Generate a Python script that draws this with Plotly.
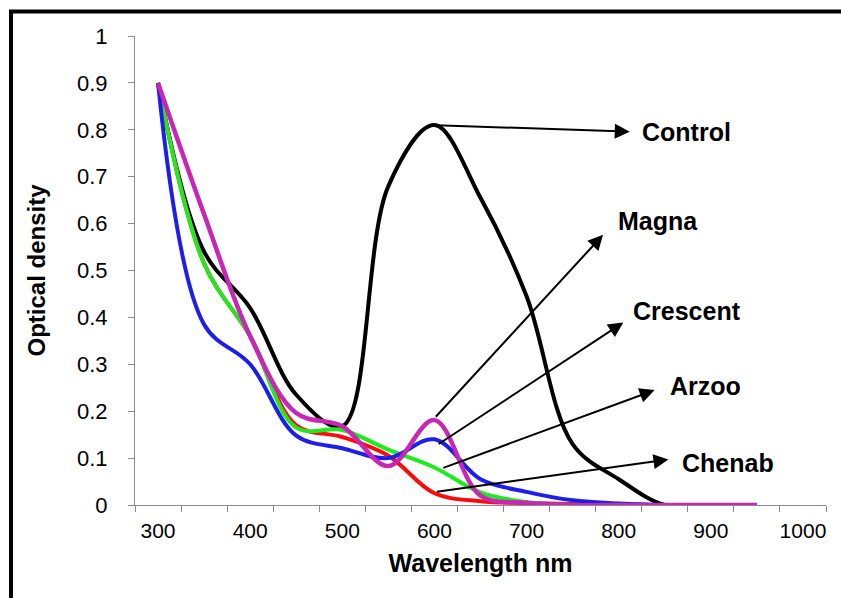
import plotly.graph_objects as go

# ---------------- data ----------------
wavelength = [300, 350, 400, 450, 500, 550, 600, 650, 700, 750, 800, 850, 900, 950]
control = [0.90, 0.54, 0.42, 0.235, 0.168, 0.68, 0.81, 0.655, 0.445, 0.13, 0.055, 0.0, 0.0, 0.0]
chenab = [0.90, 0.515, 0.36, 0.17, 0.145, 0.105, 0.025, 0.008, 0.004, 0.002, 0.0, 0.0, 0.0, 0.0]
arzoo = [0.90, 0.515, 0.36, 0.165, 0.16, 0.118, 0.08, 0.027, 0.006, 0.0, 0.0, 0.0, 0.0, 0.0]
crescent = [0.90, 0.385, 0.30, 0.148, 0.121, 0.10, 0.14, 0.055, 0.028, 0.01, 0.003, 0.0, 0.0, 0.0]
magna = [0.90, 0.62, 0.36, 0.196, 0.168, 0.083, 0.181, 0.02, 0.005, 0.0, 0.0, 0.0, 0.0, 0.0]

x_tick_vals = [300, 400, 500, 600, 700, 800, 900, 1000]
x_tick_text = ["300", "400", "500", "600", "700", "800", "900", "1000"]
y_tick_vals = [0, 0.1, 0.2, 0.3, 0.4, 0.5, 0.6, 0.7, 0.8, 0.9, 1]
y_tick_text = ["0", "0.1", "0.2", "0.3", "0.4", "0.5", "0.6", "0.7", "0.8", "0.9", "1"]

series = [
    ("Control", control, "#000000", 4),
    ("Chenab", chenab, "#FF0A0A", 4),
    ("Arzoo", arzoo, "#1EEB1E", 4),
    ("Crescent", crescent, "#1E1EEB", 4),
    ("Magna", magna, "#C826B4", 4.5),
]

# label placements (data units): (name, label_x, label_y, head_x, head_y, tail_x, tail_y)
labels = [
    ("Control", 823, 0.795, 812, 0.796, wavelength[6], control[6]),
    ("Magna", 797, 0.606, 783, 0.576, wavelength[6], magna[6] + 0.004),
    ("Crescent", 813, 0.414, 805, 0.389, 603, 0.128),
    ("Arzoo", 853, 0.254, 839, 0.245, 608, 0.078),
    ("Chenab", 866, 0.090, 854, 0.097, 601, 0.028),
]

FONT = "Liberation Sans, Arial, sans-serif"

fig = go.Figure()
for name, vals, color, w in series:
    fig.add_trace(go.Scatter(
        x=wavelength, y=vals, mode="lines", name=name,
        line=dict(color=color, width=w, shape="spline", smoothing=1),
        showlegend=False,
    ))

annotations = []
for name, lx, ly, hx, hy, tx, ty in labels:
    annotations.append(dict(
        x=hx, y=hy, ax=tx, ay=ty, xref="x", yref="y", axref="x", ayref="y",
        text="", showarrow=True, arrowhead=2, arrowsize=1.5, arrowwidth=2,
        arrowcolor="black", standoff=0, startstandoff=0,
    ))
    annotations.append(dict(
        x=lx, y=ly, xref="x", yref="y", text="<b>%s</b>" % name,
        showarrow=False, xanchor="left", yanchor="middle",
        font=dict(family=FONT, size=25, color="black"),
    ))

L, R, T, B = 135, 15, 36, 93
W, H = 841, 598
pw, ph = W - L - R, H - T - B

def px_x(p):
    return (p - L) / pw

def px_y(p):
    return (H - B - p) / ph

frame = dict(color="black", width=4)
fig.update_layout(
    width=W, height=H,
    margin=dict(l=L, r=R, t=T, b=B, autoexpand=False),
    paper_bgcolor="white", plot_bgcolor="white",
    font=dict(family=FONT, color="black"),
    annotations=annotations,
    shapes=[
        dict(type="line", xref="paper", yref="paper",
             x0=px_x(11), x1=px_x(11), y0=px_y(11.5), y1=px_y(598), line=frame),
        dict(type="line", xref="paper", yref="paper",
             x0=px_x(9), x1=px_x(841), y0=px_y(11.5), y1=px_y(11.5), line=frame),
    ],
    xaxis=dict(
        range=[275, 1025], showgrid=False, zeroline=False,
        showline=True, linecolor="#8c8c8c", linewidth=1,
        tickmode="array", tickvals=x_tick_vals, ticktext=x_tick_text,
        ticks="", tickfont=dict(size=21, family=FONT, color="black"),
        ticklabelstandoff=7,
        minor=dict(tickmode="linear", tick0=275, dtick=50, ticks="outside",
                   ticklen=6, tickcolor="#8c8c8c", tickwidth=1, showgrid=False),
        title=dict(text="<b>Wavelength nm</b>", font=dict(size=25, family=FONT),
                   standoff=13),
        automargin=False,
    ),
    yaxis=dict(
        range=[0, 1], showgrid=False, zeroline=False,
        showline=True, linecolor="#8c8c8c", linewidth=1,
        tickmode="array", tickvals=y_tick_vals, ticktext=y_tick_text,
        ticks="outside", ticklen=6, tickcolor="#8c8c8c", tickwidth=1,
        tickfont=dict(size=22, family=FONT, color="black"),
        ticklabelstandoff=16,
        title=dict(text="<b>Optical density</b>", font=dict(size=24, family=FONT),
                   standoff=24),
        automargin=False,
    ),
)

fig.write_html("out.html", config={"displayModeBar": False})
